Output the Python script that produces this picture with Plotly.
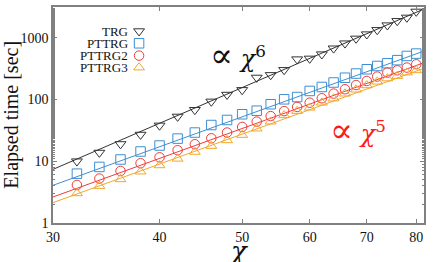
import plotly.graph_objects as go

# ---- data ----
chi = [32, 34, 36, 38, 40, 42, 44, 46, 48, 50, 52, 54, 56, 58, 60, 62, 64, 66, 68, 70, 72, 74, 76, 78, 80]
trg = [10, 13.8, 19, 27, 38, 53, 68, 93, 120, 143, 227, 250, 302, 450, 462, 542, 675, 815, 975, 1143, 1343, 1600, 1879, 2133, 2668]
pttrg = [6.3, 8.1, 10.7, 14.4, 18, 23.3, 29.2, 38.7, 46.7, 57.8, 66, 84, 101, 110, 138, 160, 189, 226, 264, 310, 350, 388, 435, 509, 556]
pttrg2 = [4.13, 5.25, 6.97, 9.29, 11.6, 15.1, 18.9, 23.6, 29.2, 36, 44, 54, 65, 76, 89, 105, 125, 147, 172, 200, 236, 274, 298, 330, 373]
pttrg3 = [3.03, 3.98, 5.11, 6.81, 8.6, 11, 14.2, 17.7, 21.9, 26.7, 33.9, 44, 55.7, 65.3, 74, 89, 104, 125, 145, 170, 195, 220, 241, 274, 298]

# power-law fit lines (end points)
fit_chi = [30, 81.7]
trg_fit = [7.4, 2940]
pttrg_fit = [4.08, 612]
pttrg2_fit = [2.64, 396]
pttrg3_fit = [2.14, 321]

names = ["TRG", "PTTRG", "PTTRG2", "PTTRG3"]
x_ticks = [30, 40, 50, 60, 70, 80]
y_ticks = [1, 10, 100, 1000]

# ---- styles ----
colors = ["#333333", "#3d8fd1", "#f23a3a", "#f2a72e"]
symbols = ["triangle-down-open", "square-open", "circle-open", "triangle-up-open"]
serif = "Liberation Serif"

series = [trg, pttrg, pttrg2, pttrg3]
fits = [trg_fit, pttrg_fit, pttrg2_fit, pttrg3_fit]

fig = go.Figure()
for name, ys, fy, c, s in zip(names, series, fits, colors, symbols):
    fig.add_trace(go.Scatter(x=fit_chi, y=fy, mode="lines",
                             line=dict(color=c, width=1), showlegend=False, hoverinfo="skip"))
    fig.add_trace(go.Scatter(x=chi, y=ys, mode="markers", name=name,
                             marker=dict(symbol=s, size=9.5, color=c, line=dict(color=c, width=1)),
                             showlegend=False))

# custom legend: text right-aligned, symbol to the right
leg_y = [0.888, 0.832, 0.775, 0.72]
leg_text_x = 0.208
leg_sym_x = 0.232
for name, c, s, ly in zip(names, colors, symbols, leg_y):
    fig.add_trace(go.Scatter(x=[leg_sym_x], y=[ly], xaxis="x2", yaxis="y2", mode="markers",
                             marker=dict(symbol=s, size=9.5, color=c, line=dict(color=c, width=1)),
                             showlegend=False, hoverinfo="skip"))
    fig.add_annotation(x=leg_text_x, y=ly, xref="paper", yref="paper", text=name,
                       showarrow=False, xanchor="right", yanchor="middle",
                       font=dict(family=serif, size=13, color="#111111"))

prop6 = ("<span style='font-size:34px'>∝</span> <i>χ</i><sup>6</sup>")
prop5 = ("<span style='font-size:34px'>∝</span> <i>χ</i><sup>5</sup>")
fig.add_annotation(x=0.418, y=0.78, xref="paper", yref="paper",
                   text=prop6, showarrow=False, xanchor="left", yanchor="middle",
                   font=dict(family="DejaVu Serif", size=24, color="#111111"))
fig.add_annotation(x=0.742, y=0.43, xref="paper", yref="paper",
                   text=prop5, showarrow=False, xanchor="left", yanchor="middle",
                   font=dict(family="DejaVu Serif", size=24, color="#ff1a1a"))

# axis titles
fig.add_annotation(x=0.5, y=-0.13, xref="paper", yref="paper", text="<i>χ</i>",
                   showarrow=False, xanchor="center", yanchor="middle",
                   font=dict(family="DejaVu Serif", size=26, color="#111111"))
fig.add_annotation(x=-0.113, y=0.502, xref="paper", yref="paper", text="Elapsed time [sec]",
                   showarrow=False, xanchor="center", yanchor="middle", textangle=-90,
                   font=dict(family=serif, size=20, color="#111111"))

axis_common = dict(showline=True, linecolor="#808080", linewidth=1.5, mirror="ticks",
                   ticks="inside", tickcolor="#808080", ticklen=4, showgrid=False, zeroline=False,
                   automargin=False,
                   tickfont=dict(family=serif, size=14, color="#111111"))

fig.update_layout(
    width=436, height=262,
    margin=dict(l=53, r=12, t=7, b=39),
    paper_bgcolor="white", plot_bgcolor="white",
    xaxis=dict(type="log", range=[1.4771, 1.9122], tickvals=x_ticks, ticktext=[str(v) for v in x_ticks],
               **axis_common),
    yaxis=dict(type="log", range=[0, 3.5], tickvals=y_ticks, ticktext=[str(v) for v in y_ticks],
               minor=dict(ticks="inside", ticklen=2, tickcolor="#808080", showgrid=False),
               **axis_common),
    xaxis2=dict(overlaying="x", range=[0, 1], visible=False),
    yaxis2=dict(overlaying="y", range=[0, 1], visible=False),
    showlegend=False,
)

fig.write_html("out.html", config={"displayModeBar": False},
               post_script="document.body.style.margin='0';")
